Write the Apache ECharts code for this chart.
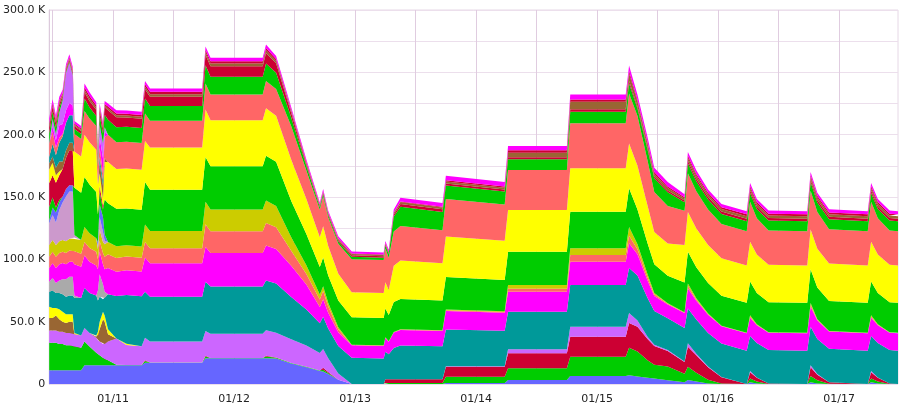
<!DOCTYPE html>
<html><head><meta charset="utf-8">
<script src="https://cdn.jsdelivr.net/npm/echarts@6/dist/echarts.min.js"></script>
<style>html,body{margin:0;padding:0;background:#fff}#c{width:908px;height:415px}</style>
</head><body><div id="c"></div>
<script>
// key sample times (values in thousands)
const keyTimes = [
'01/10 11:20','01/10 12:00','01/10 12:40','01/10 13:20','01/10 14:00','01/10 14:40','01/10 15:20','01/10 16:00','01/10 16:20','01/10 17:40','01/10 18:20','01/10 19:20','01/10 20:40','01/10 21:00','01/10 21:20','01/10 22:00','01/10 22:20','01/10 23:00','01/11 00:40','01/11 02:40','01/11 05:40',
'01/11 06:20','01/11 07:20','01/11 17:40','01/11 18:20','01/11 19:20','01/12 05:40','01/12 06:20','01/12 08:20','01/12 11:20','01/12 14:20','01/12 17:00','01/12 17:40','01/12 18:40','01/12 20:40','01/12 23:20','01/13 05:40','01/13 06:00','01/13 06:40','01/13 07:40','01/13 09:00',
'01/13 17:20','01/13 18:00','01/14 05:40','01/14 06:20','01/14 18:00','01/14 18:40','01/15 05:40','01/15 06:20','01/15 08:00','01/15 10:00','01/15 11:20','01/15 14:00','01/15 17:20','01/15 18:00','01/15 19:40','01/15 22:00','01/16 00:40','01/16 05:40','01/16 06:20','01/16 07:40','01/16 10:00','01/16 17:40','01/16 18:20','01/16 19:40','01/16 22:00','01/17 05:40','01/17 06:20','01/17 07:40','01/17 10:00','01/17 11:40'];

const blue = [11,11,11,11,11,11,11,11,11,11,15,15,15,15,15,15,15,15,15,15,15,
17,17,17,20.6,20.6,20.6,20.6,20.5,16.5,13.5,10.5,10,8,3.5,0,0,0,0,0,0,
0,0.8,0.8,3.2,3.2,6.4,6.4,7,6,5,4.5,3,1.5,3.2,2,0.5,0,0,1.5,0.5,0,0,1.5,0.5,0,0,1.5,0.5,0,0];
const greenA = [22,22,22,21,21,20,20,20,19,18,19,15,10,9,8,6,5,4,0.5,0.3,0.3,
1.5,0.3,0.3,1.5,0.3,0.3,1.5,0.5,0.3,0.3,0.3,1.5,0.8,0,0,0,0.8,0.8,0.8,0.8,
0.8,5,5,9.4,9.4,15.5,15.5,22,20,14,11,11,6.7,10.7,7,3,0.5,0,3,1.5,0,0,5,2.5,0.3,0,3,1.5,0,0];
const crimsonA = [0,0,0,0,0,0,0,0,0,0,0,0,0,0,0,0,0,0,0,0,0,
0.5,0,0,0.5,0,0,0.5,0.2,0,0,0,1.5,0.8,0,0,0,3,3,3,3,
3,8,8,12,12,16,16,20,20,17,15,12.5,9.4,16,14,10,5,0,5,3,0.5,0,7,4.5,1.2,0,5,3,0.5,0];
const lavender = [10,10,10,10,10,10,10,10,10,10,11,11,12,11,11,11,12,15,21,16,15,
18,16.7,16.7,20,19.4,19.4,20.5,20,19,17,14,15,11,5,0,0,0,0,0,0,
0,0.5,0.5,3.2,3.2,8.1,8.1,8,5,2,1,0.8,0.5,2.7,1.2,0.5,0.2,0,1,0.3,0,0,1.5,0.5,0,0,1,0.3,0,0];
const brownA = [10,10,12,10,8,8,9,9,0,0,0,0,1,4,10,20,18,6,0,0,0,
0,0,0,0,0,0,0,0,0,0,0,0,0,0,0,0,0,0,0,0,
0,0,0,0,0,0,0,0,0,0,0,0,0,0,0,0,0,0,0,0,0,0,0,0,0,0,0,0,0,0];
const yellowA = [9,8,6,8,8,7,6,6,1,0,0,0,1,3,6,6,5,4,0,1,0,
0,0,0,0,0,0,0,0,0,0,0,0,0,0,0,0,0,0,0,0,
0,0,0,0,0,0,0,0,0,0,0,0,0,0,0,0,0,0,0,0,0,0,0,0,0,0,0,0,0,0];
const teal = [12,14,12,13,14,14,15,15,28,30,32,32,32,25,20,10,14,28,34,39,40,
37,36,36,39.5,38,38,40,39.5,34,29,24,26,24,22,21,20.5,22,20,25,27,
26.5,29.5,28.5,30.2,30.2,33.4,33.4,36,36,31,27,25.5,26.8,28,27.5,27,26.7,26.7,28,27.5,26.7,26.7,31,28,26.7,26.7,28,27.5,26.7,26.7];
const gray = [8,10,8,10,12,14,15,15,2,0,0,0,0,8,18,12,5,0,0,0,0,
0,0,0,0,0,0,0,0,0,0,0,0,0,0,0,0,0,0,0,0,
0,0,0,0,0,0,0,0,0,0,0,0,0,0,0,0,0,0,0,0,0,0,0,0,0,0,0,0,0,0];
const magenta = [11,12,12,13,13,12,12,12,25,25,26,25,24,17,18,16,18,21,19.5,20,20,
27.5,26.8,26.8,28,26.8,26.8,28,27.5,25,20,13,14,12.5,11,10,10,11,10,12.5,12.6,
12.3,14.8,14.3,16,16,18.7,18.7,20,17,14,12,11,12,16,15,14.5,14,14,14.7,14.3,14,14,16,15,14,14,14.7,14.3,14,14];
const salmonA = [9,9,9,9,9,9,9,9,10.5,10.5,11,11,11,8,9,9,10,11,11,11,11,
12.5,12,12,18,17.4,17.4,18,17.5,12,8.5,6,6.5,5,2.5,0.3,0.3,0.5,0.3,0.3,0.3,
0.3,0.6,0.6,2.5,2.5,5.4,5.4,6,4,2.5,1.5,0.5,0.3,2,1,0.5,0.2,0.2,1,0.4,0.2,0.2,1.5,0.5,0.2,0.2,1,0.4,0.2,0.2];
const olive = [9.5,9.5,9.5,9.5,9.5,9.5,9.5,9.5,11,11,12,12,11,8,9,9,10,10,9.5,9,9,
14,14,14,18,17.4,17.4,18,17,11,7,4,4,3,1.5,0.2,0.2,0.3,0.2,0.2,0.2,
0.2,0.6,0.6,2.9,2.9,5.3,5.3,7,4,2.5,1,0.5,0.3,2,1,0.5,0.2,0.2,1,0.4,0.2,0.2,1.5,0.5,0.2,0.2,1,0.4,0.2,0.2];
const lilac = [17.5,20,18,25,30,36,38,38,2,0,0,0,0,3,10,8,3,0,0,0,0,
0,0,0,0,0,0,0,0,0,0,0,0,0,0,0,0,0,0,0,0,
0,0,0,0,0,0,0,0,0,0,0,0,0,0,0,0,0,0,0,0,0,0,0,0,0,0,0,0,0,0];
const blue2 = [2,6,8,6,5,6,5,5,0,0,0,0,0,3,10,12,5,0,0,0,0,
0,0,0,0,0,0,0,0,0,0,0,0,0,0,0,0,0,0,0,0,
0,0,0,0,0,0,0,0,0,0,0,0,0,0,0,0,0,0,0,0,0,0,0,0,0,0,0,0,0,0];
const greenB = [11,8,4,2,0,0,0,0,38,38,40,39,37,22,10,6,28,31,30,29.5,29.5,
34,33,33,36,34.7,34.7,36,35.5,29,25,22,23,22,21.5,22,22,23,21,24,24.3,
23.8,26,25.2,26.6,26.6,29.4,29.4,31,28,25,23,22,24,25.4,25,24.5,24,24,27,25,24,24,27,25.5,24,24,27,25,24,24];
const crimson2 = [19,18,20,20,22,25,28,28,0,0,0,0,0,0,5,3,0,0,0,0,0,
0,0,0,0,0,0,0,0,0,0,0,0,0,0,0,0,0,0,0,0,
0,0,0,0,0,0,0,0,0,0,0,0,0,0,0,0,0,0,0,0,0,0,0,0,0,0,0,0,0,0];
const yellowB = [11,10,6,3,0,0,0,0,29,29,34,34,34,24,10,6,30,33,32,32,32,
33,34,34,38,37,37,38,37,33,28,24,25,23.5,21.5,20,20,21,20,29,30.8,
30,32.5,31.5,33.6,33.6,34.8,34.8,36,35,30,26,26,30,32,31,30.5,30,30,32,31,30,30,32,31,30,30,32,31,30,30];
const brown2 = [5,5,6,8,6,6,6,6,0,0,0,0,0,0,8,10,3,0,0,0,0,
0,0,0,0,0,0,0,0,0,0,0,0,0,0,0,0,0,0,0,0,
0,0,0,0,0,0,0,0,0,0,0,0,0,0,0,0,0,0,0,0,0,0,0,0,0,0,0,0,0,0];
const teal2 = [5,10,10,15,20,22,22,22,0,0,0,0,0,0,5,4,0,0,0,0,0,
0,0,0,0,0,0,0,0,0,0,0,0,0,0,0,0,0,0,0,0,
0,0,0,0,0,0,0,0,0,0,0,0,0,0,0,0,0,0,0,0,0,0,0,0,0,0,0,0,0,0];
const salmonB = [11,10,6,4,2,0,0,0,14,14,19,19,19,14,8,6,17,22,21.5,21.5,21.5,
22,21.4,21.4,21,20.6,20.6,22,21.5,27,23,22,24,23,24,26.5,26.5,27,26,27.5,27.7,
26.5,30,29,32.1,32.1,36.1,36.1,40,40,36,32,30,27.5,31,30,28.5,27.5,27.5,32,29,27.5,27.5,31,29.5,27.5,27.5,32,29,27.5,27.5];
const magenta2 = [0,4,6,10,8,10,10,8,0,0,0,0,0,0,8,12,4,0,0,0,0,
0,0,0,0,0,0,0,0,0,0,0,0,0,0,0,0,0,0,0,0,
0,0,0,0,0,0,0,0,0,0,0,0,0,0,0,0,0,0,0,0,0,0,0,0,0,0,0,0,0,0];
const lavender2 = [0,6,5,10,19,30,32,24,0,0,0,0,0,0,10,12,4,0,0,0,0,
0,0,0,0,0,0,0,0,0,0,0,0,0,0,0,0,0,0,0,0,
0,0,0,0,0,0,0,0,0,0,0,0,0,0,0,0,0,0,0,0,0,0,0,0,0,0,0,0,0,0];
const greenC = [8,6,5,4,2,1,1,1,4,4,10,9,8,5,8,8,10,12,12,12,12,
12,11.8,11.8,14.5,14.2,14.2,14,13,7,3.5,2,2,1.8,1.8,2,1.8,2.5,3,12,15.5,
14.5,11,10.5,8.5,8.5,9.3,9.3,8,6,9,11,11,6.7,8,8,8,8,8,7,7.5,8,8,7,7.5,8,8,7,7.5,8,8];
const crimsonC = [5,4,4,3,2,1.5,1.5,1.5,2.5,2.5,5,5,5,3,4,4,6,7.5,8,7.5,7.5,
7.5,7.5,7.5,8.5,8.5,8.5,8.5,7.5,3.5,1.5,1,1,1,1.2,1.2,1.2,1,0.8,1.5,2.2,
2.2,1.5,1.5,1.6,1.6,1.9,1.9,2,1.5,1.5,1.5,1.5,1.5,2,2,2,2,2,2,2,2,2,2,2,2,2,2,2,2,2];
const brownC = [1.5,1.5,1.5,1.5,1,1,1,1,1,1,2,2,2,1.5,1.5,1.5,1.5,1.5,1.5,1.5,1.5,
2,2,2,2.2,2.2,2.2,2.2,2,1.5,1,0.7,0.7,0.6,0.8,1,1,0.8,0.7,1.2,1.5,
1.5,1.7,1.5,3.7,3.7,6.1,6.1,6,4,3,2,2,1.5,2.5,2.3,2,2,2,2,2,2,2,2,2,2,2,2,2,2,2];
const crimsonD = [1.5,1.5,1.5,1.5,1,1,1,1,1,1,2,2,1.5,1,1,1,1,1.5,1.5,1.5,1.5,
2,2,2,1.8,1.8,1.8,1.8,1.5,1,0.7,0.5,0.5,0.4,0.4,0.4,0.4,0.3,0.3,0.5,0.5,
0.5,1,1,2.1,2.1,1.9,1.9,2,1.5,1.5,1.5,1.2,1,1.5,1.5,1.5,1.5,1.5,1.5,1.5,1.5,1.5,1.5,1.5,1.5,1.5,1.5,1.5,1.5,1.5];
const magentaTop = [4,3,3,3,2.5,2.5,2.5,2.5,2,2,3,3,2.5,2,2.5,2.5,2.5,2.5,2.5,2.5,2.5,
2.5,2.5,2.5,2.7,2.7,2.7,2.7,2.5,2.2,2,1.5,1.8,1.6,1.8,1.6,1.6,1.5,1.5,2.5,3,
3,3.5,3.5,3.3,3.3,4,4,4.5,4,4,3.5,3.5,2.5,3,3,2.5,2.5,2.5,2.5,2.5,2.5,2.5,2.5,2.5,2.5,2.5,2.5,2.5,2.5,2.5];

// axis categories: every 20 minutes from 01/10 11:20 to 01/17 11:40
const categories = [];
for (let i = 0; i <= 505; i++) {
  const total = 680 + 20 * i;
  const day = 10 + Math.floor(total / 1440);
  const m = total % 1440;
  const hh = String(Math.floor(m / 60)).padStart(2, '0');
  const mm = String(m % 60).padStart(2, '0');
  categories.push('01/' + String(day).padStart(2, '0') + ' ' + hh + ':' + mm);
}

const layers = [
  [blue, '#6666ff'], [greenA, '#00cc00'], [crimsonA, '#cc0033'], [lavender, '#cc66ff'],
  [brownA, '#996633'], [yellowA, '#ffff00'], [teal, '#009999'], [gray, '#aaaaaa'],
  [magenta, '#ff00ff'], [salmonA, '#ff6666'], [olive, '#cccc00'], [lilac, '#cc99cc'],
  [blue2, '#6666ff'], [greenB, '#00cc00'], [crimson2, '#cc0033'], [yellowB, '#ffff00'],
  [brown2, '#996633'], [teal2, '#009999'], [salmonB, '#ff6666'], [magenta2, '#ff00ff'],
  [lavender2, '#cc66ff'], [greenC, '#00cc00'], [crimsonC, '#cc0033'], [brownC, '#996633'],
  [crimsonD, '#cc0033'], [magentaTop, '#ff00ff']
];

const series = layers.map(([vals, color], si) => ({
  type: 'line', stack: 'total', name: 's' + si,
  data: keyTimes.map((t, i) => [t, vals[i]]),
  symbol: 'none', showSymbol: false, smooth: false,
  lineStyle: { width: 0 },
  itemStyle: { color: color },
  areaStyle: { color: color, opacity: 1 },
  silent: true
}));

const chart = echarts.init(document.getElementById('c'), null, { renderer: 'canvas' });
chart.setOption({
  animation: false,
  backgroundColor: '#ffffff',
  grid: { left: 48, right: 10, top: 10, bottom: 31, show: true, borderColor: '#e6d8e6', borderWidth: 1 },
  xAxis: {
    type: 'category', data: categories, boundaryGap: false,
    axisLine: { show: false }, axisTick: { show: false },
    axisLabel: {
      interval: (idx, val) => val.endsWith(' 00:00'),
      formatter: (val) => val.slice(0, 5),
      color: '#222', fontSize: 11, fontFamily: 'DejaVu Sans', margin: 10
    },
    splitLine: {
      show: true,
      interval: (idx, val) => val.endsWith(' 00:00') || val.endsWith(' 12:00'),
      lineStyle: { color: '#e0cce0', width: 1 }
    }
  },
  yAxis: {
    type: 'value', min: 0, max: 300, interval: 25,
    axisLine: { show: true, lineStyle: { color: '#dccadc' } }, axisTick: { show: false },
    axisLabel: {
      formatter: (v) => (v % 50 !== 0 ? '' : (v === 0 ? '0' : v.toFixed(1) + ' K')),
      color: '#222', fontSize: 11, fontFamily: 'DejaVu Sans', margin: 4
    },
    splitLine: { show: true, lineStyle: { color: '#ecdfec', width: 1 } }
  },
  series: series
});
</script>
</body></html>
